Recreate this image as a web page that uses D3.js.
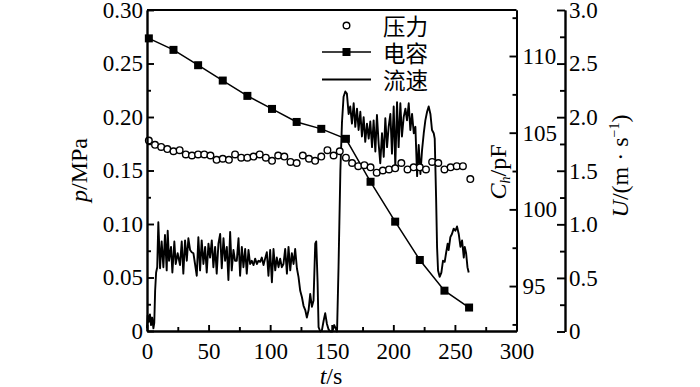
<!DOCTYPE html>
<html>
<head>
<meta charset="UTF-8">
<style>
body { margin: 0; background: #fff; }
svg { display: block; background: #fff; font-family: "Liberation Serif", "Times New Roman", serif; }
.axis path, .axis line { stroke: #000; stroke-width: 1.9; }
.axis text { font-size: 23px; fill: #000; font-family: "Liberation Serif", "Times New Roman", serif; }
.title { font-size: 24px; fill: #000; }
.legend { font-size: 22.5px; font-family: "Noto Sans CJK SC", sans-serif; fill: #000; }
</style>
</head>
<body>
<script src="https://cdn.jsdelivr.net/npm/d3@7"></script>
<script>

// pressure p (MPa), open circles, left axis
var pTime = [1.5, 6.5, 11.5, 16.5, 21.5, 26.5, 31.5, 36.5, 41.5, 46.5,
  51.5, 56.5, 61.5, 66.5, 71.5, 76.5, 81.5, 86.5, 91.5, 96.5,
  101.5, 106.5, 111.5, 116.5, 121.5, 126.5, 131.5, 136.5, 141.5, 146.5,
  151.5, 156.5, 161.5, 166.5, 171.5, 176.5, 181.5, 186.5, 191.5, 196.5,
  201.5, 206.5, 211.5, 216.5, 221.5, 226.5, 231.5, 236.5, 241.5, 246.5,
  251.5, 256.5, 262.5];
var pValue = [0.178, 0.174, 0.172, 0.170, 0.168, 0.169, 0.165, 0.164, 0.165, 0.165,
  0.164, 0.160, 0.161, 0.160, 0.165, 0.162, 0.162, 0.163, 0.165, 0.162,
  0.159, 0.164, 0.163, 0.158, 0.157, 0.164, 0.161, 0.159, 0.163, 0.169,
  0.164, 0.168, 0.162, 0.157, 0.154, 0.155, 0.153, 0.148, 0.150, 0.151,
  0.152, 0.157, 0.151, 0.153, 0.153, 0.151, 0.158, 0.157, 0.151, 0.153,
  0.154, 0.154, 0.142];

// capacitance Ch (pF), filled squares, right spine
var cTime = [1.5, 21.5, 41.5, 61.5, 81.5, 101.5, 121.5, 141.5, 161.5, 181.5, 201.5, 221.5, 241.5, 261.5];
var cValue = [111.15, 110.4, 109.4, 108.4, 107.4, 106.55, 105.7, 105.25, 104.6, 101.8, 99.2, 96.7, 94.7, 93.6];

// flow speed U (m/s), plain line, outer right axis
var uTime = [0, 0.6, 1.5, 2.4, 3.3, 4.2, 5.2, 5.9, 6.6, 7.4,
  8.3, 9.2, 10.6, 11.9, 13.3, 14.6, 16.0, 16.8, 17.9, 19.5,
  20.6, 22.2, 23.3, 24.9, 26.8, 28.2, 29.5, 30.9, 32.3, 33.6,
  35.0, 36.3, 37.7, 39.0, 40.4, 41.7, 43.1, 44.4, 45.8, 47.2,
  48.5, 49.9, 51.2, 52.6, 53.9, 55.3, 56.6, 58.0, 59.4, 60.7,
  62.1, 63.4, 64.8, 66.1, 67.5, 68.8, 70.2, 71.5, 72.9, 74.3,
  75.6, 77.0, 78.3, 79.7, 81.0, 82.4, 83.7, 85.1, 86.5, 87.8,
  89.2, 90.5, 91.9, 93.2, 94.6, 95.9, 97.3, 98.6, 100.0, 101.4,
  102.7, 104.1, 105.4, 106.8, 108.1, 109.5, 110.8, 112.2, 113.6, 114.9,
  116.3, 117.6, 119.0, 120.3, 121.7, 123.0, 124.4, 125.8, 127.1, 128.5,
  129.8, 131.2, 132.5, 133.9, 135.2, 136.6, 137.4, 138.5, 139.3, 140.7,
  142.0, 143.4, 144.7, 146.1, 147.4, 148.8, 150.5, 152.0, 153.5, 154.3,
  155.5, 157.0, 158.3, 159.6, 161.0, 162.3, 163.7, 165.0, 166.4, 167.8,
  169.1, 170.5, 171.8, 173.2, 174.5, 175.9, 177.2, 178.6, 180.0, 181.3,
  182.7, 184.0, 185.4, 186.7, 188.1, 189.4, 190.8, 192.2, 193.5, 194.9,
  196.2, 197.6, 198.9, 200.3, 201.6, 203.0, 204.3, 205.7, 207.0, 208.4,
  209.8, 211.1, 212.5, 213.8, 215.2, 216.6, 217.9, 219.3, 220.6, 222.0,
  223.3, 224.7, 226.0, 227.4, 228.7, 230.1, 231.4, 232.8, 233.6, 234.7,
  235.5, 236.3, 237.6, 239.0, 240.3, 241.7, 242.8, 244.1, 244.9, 246.3,
  247.6, 249.0, 250.4, 251.7, 253.1, 254.5, 255.8, 257.2, 258.0, 259.1,
  260.2, 261.2];
var uValue = [0.03, 0.15, 0.09, 0.16, 0.06, 0.13, 0.03, 0.08, 0.38, 0.55,
  0.60, 1.02, 0.59, 0.84, 0.60, 0.90, 0.57, 0.94, 0.66, 0.79,
  0.55, 0.84, 0.63, 0.73, 0.62, 0.84, 0.54, 0.85, 0.66, 0.87,
  0.76, 0.74, 0.73, 0.63, 0.52, 0.88, 0.57, 0.85, 0.63, 0.79,
  0.55, 0.82, 0.69, 0.85, 0.60, 0.79, 0.54, 0.82, 0.91, 0.59,
  0.87, 0.66, 0.79, 0.48, 0.93, 0.57, 0.76, 0.66, 0.66, 0.87,
  0.52, 0.79, 0.60, 0.77, 0.54, 0.76, 0.63, 0.66, 0.62, 0.68,
  0.63, 0.66, 0.65, 0.69, 0.62, 0.68, 0.74, 0.52, 0.76, 0.46,
  0.77, 0.57, 0.69, 0.60, 0.68, 0.60, 0.63, 0.77, 0.54, 0.79,
  0.57, 0.73, 0.63, 0.77, 0.59, 0.51, 0.38, 0.32, 0.24, 0.20,
  0.13, 0.20, 0.35, 0.23, 0.29, 0.82, 0.84, 0.46, 0.04, 0.00,
  0.01, 0.10, 0.17, 0.07, 0.02, 0.00, 0.00, 0.06, 0.02, 0.00,
  0.60, 1.50, 1.95, 2.19, 2.24, 2.22, 2.03, 2.10, 1.94, 2.13,
  1.91, 2.08, 1.88, 2.05, 1.82, 2.00, 1.77, 1.94, 1.80, 1.96,
  1.72, 1.97, 1.68, 2.02, 1.75, 1.57, 1.85, 1.63, 1.99, 1.72,
  1.91, 2.03, 1.66, 2.10, 1.54, 2.14, 1.72, 2.13, 1.82, 2.00,
  2.08, 1.97, 2.13, 1.88, 2.03, 1.85, 1.91, 1.45, 1.74, 1.47,
  1.69, 1.85, 1.97, 2.05, 2.10, 2.03, 1.88, 1.85, 1.80, 1.26,
  0.79, 0.57, 0.51, 0.55, 0.66, 0.65, 0.73, 0.82, 0.76, 0.88,
  0.91, 0.96, 0.94, 0.98, 0.91, 0.79, 0.85, 0.69, 0.79, 0.73,
  0.60, 0.55];

var xTicks = [0, 50, 100, 150, 200, 250, 300];
var xMinor = [25, 75, 125, 175, 225, 275];
var pTicks = [0, 0.05, 0.10, 0.15, 0.20, 0.25, 0.30];
var pMinor = [0.025, 0.075, 0.125, 0.175, 0.225, 0.275];
var cTicks = [95, 100, 105, 110];
var cMinor = [92.5, 97.5, 102.5, 107.5, 112.5];
var uTicks = [0, 0.5, 1.0, 1.5, 2.0, 2.5, 3.0];
var uMinor = [0.25, 0.75, 1.25, 1.75, 2.25, 2.75];
var legendNames = ['压力', '电容', '流速'];

var width = 700, height = 387;
var svg = d3.select('body').append('svg')
  .attr('width', width)
  .attr('height', height);

var x = d3.scaleLinear().domain([0, 300]).range([147, 516.5]);
var yP = d3.scaleLinear().domain([0, 0.3]).range([331, 10]);
var yC = d3.scaleLinear().domain([92.07, 113]).range([331, 10]);
var yU = d3.scaleLinear().domain([0, 3]).range([331.5, 10]);
var uAxisX = 565;

// flow line first, so markers sit on top
var uData = uTime.map(function(t, i) { return [t, uValue[i]]; });
svg.append('path')
  .datum(uData)
  .attr('fill', 'none')
  .attr('stroke', '#000')
  .attr('stroke-width', 1.9)
  .attr('stroke-linejoin', 'round')
  .attr('d', d3.line()
    .x(function(d) { return x(d[0]); })
    .y(function(d) { return yU(d[1]); }));

var cData = cTime.map(function(t, i) { return [t, cValue[i]]; });
svg.append('path')
  .datum(cData)
  .attr('fill', 'none')
  .attr('stroke', '#000')
  .attr('stroke-width', 1.5)
  .attr('d', d3.line()
    .x(function(d) { return x(d[0]); })
    .y(function(d) { return yC(d[1]); }));

svg.selectAll('rect.sq')
  .data(cData)
  .enter()
  .append('rect')
  .attr('class', 'sq')
  .attr('x', function(d) { return x(d[0]) - 4; })
  .attr('y', function(d) { return yC(d[1]) - 4; })
  .attr('width', 8)
  .attr('height', 8)
  .attr('fill', '#000');

var pData = pTime.map(function(t, i) { return [t, pValue[i]]; });
svg.selectAll('circle.pt')
  .data(pData)
  .enter()
  .append('circle')
  .attr('class', 'pt')
  .attr('cx', function(d) { return x(d[0]); })
  .attr('cy', function(d) { return yP(d[1]); })
  .attr('r', 3.3)
  .attr('fill', '#fff')
  .attr('stroke', '#000')
  .attr('stroke-width', 1.4);

// axes
function fmtP(d) { return d === 0 ? '0' : d3.format('.2f')(d); }
function fmtU(d) { return d === 0 ? '0' : d3.format('.1f')(d); }

var gx = svg.append('g').attr('class', 'axis')
  .attr('transform', 'translate(0,' + yP(0) + ')')
  .call(d3.axisBottom(x).tickValues(xTicks).tickSize(-6).tickSizeOuter(0));
gx.selectAll('text').attr('y', 27.5).attr('dy', null);
svg.append('g').attr('class', 'axis')
  .attr('transform', 'translate(0,' + yP(0) + ')')
  .call(d3.axisBottom(x).tickValues(xMinor).tickSize(-4).tickSizeOuter(0).tickFormat(''));

svg.append('g').attr('class', 'axis')
  .attr('transform', 'translate(' + x(0) + ',0)')
  .call(d3.axisLeft(yP).tickValues(pTicks).tickSize(-7).tickSizeOuter(0).tickPadding(4).tickFormat(fmtP));
svg.append('g').attr('class', 'axis')
  .attr('transform', 'translate(' + x(0) + ',0)')
  .call(d3.axisLeft(yP).tickValues(pMinor).tickSize(-4).tickSizeOuter(0).tickFormat(''));

svg.append('g').attr('class', 'axis')
  .attr('transform', 'translate(' + x(300) + ',0)')
  .call(d3.axisRight(yC).tickValues(cTicks).tickSize(-7).tickSizeOuter(0).tickPadding(6));
svg.append('g').attr('class', 'axis')
  .attr('transform', 'translate(' + x(300) + ',0)')
  .call(d3.axisRight(yC).tickValues(cMinor).tickSize(-4).tickSizeOuter(0).tickFormat(''));

svg.append('g').attr('class', 'axis')
  .attr('transform', 'translate(' + uAxisX + ',0)')
  .call(d3.axisRight(yU).tickValues(uTicks).tickSize(-8).tickSizeOuter(0).tickPadding(4).tickFormat(fmtU));
svg.append('g').attr('class', 'axis')
  .attr('transform', 'translate(' + uAxisX + ',0)')
  .call(d3.axisRight(yU).tickValues(uMinor).tickSize(-5).tickSizeOuter(0).tickFormat(''));

// top frame line
svg.append('line')
  .attr('x1', x(0)).attr('x2', x(300))
  .attr('y1', yP(0.3)).attr('y2', yP(0.3))
  .attr('stroke', '#000').attr('stroke-width', 1.9);

// axis titles
var tP = svg.append('text').attr('class', 'title')
  .attr('transform', 'translate(87,170) rotate(-90)')
  .attr('text-anchor', 'middle');
tP.append('tspan').attr('font-style', 'italic').text('p');
tP.append('tspan').text('/MPa');

var tC = svg.append('text').attr('class', 'title')
  .attr('transform', 'translate(506,172) rotate(-90)')
  .attr('text-anchor', 'middle');
tC.append('tspan').attr('font-style', 'italic').text('C');
tC.append('tspan').attr('font-style', 'italic').attr('font-size', 14).attr('dy', 4).text('h');
tC.append('tspan').attr('dy', -4).text('/pF');

var tU = svg.append('text').attr('class', 'title')
  .attr('transform', 'translate(628,166) rotate(-90)')
  .attr('text-anchor', 'middle');
tU.append('tspan').attr('font-style', 'italic').text('U');
tU.append('tspan').text('/(m · s');
tU.append('tspan').attr('font-size', 14).attr('dy', -9).text('−1');
tU.append('tspan').attr('dy', 9).text(')');

var tT = svg.append('text').attr('class', 'title')
  .attr('x', 331).attr('y', 384)
  .attr('text-anchor', 'middle');
tT.append('tspan').attr('font-style', 'italic').text('t');
tT.append('tspan').text('/s');

// legend
var legY = [25.5, 52, 79.5];
var lg = svg.append('g');
lg.append('circle').attr('cx', 346.5).attr('cy', legY[0]).attr('r', 3.3)
  .attr('fill', '#fff').attr('stroke', '#000').attr('stroke-width', 1.4);
lg.append('line').attr('x1', 322).attr('x2', 371).attr('y1', legY[1]).attr('y2', legY[1])
  .attr('stroke', '#000').attr('stroke-width', 1.5);
lg.append('rect').attr('x', 342.5).attr('y', legY[1] - 4).attr('width', 8).attr('height', 8).attr('fill', '#000');
lg.append('line').attr('x1', 322).attr('x2', 371).attr('y1', legY[2]).attr('y2', legY[2])
  .attr('stroke', '#000').attr('stroke-width', 1.9);
lg.selectAll('text')
  .data(legendNames)
  .enter()
  .append('text')
  .attr('class', 'legend')
  .attr('x', 383)
  .attr('y', function(d, i) { return legY[i] + 9.5; })
  .text(function(d) { return d; });

</script>
</body>
</html>
